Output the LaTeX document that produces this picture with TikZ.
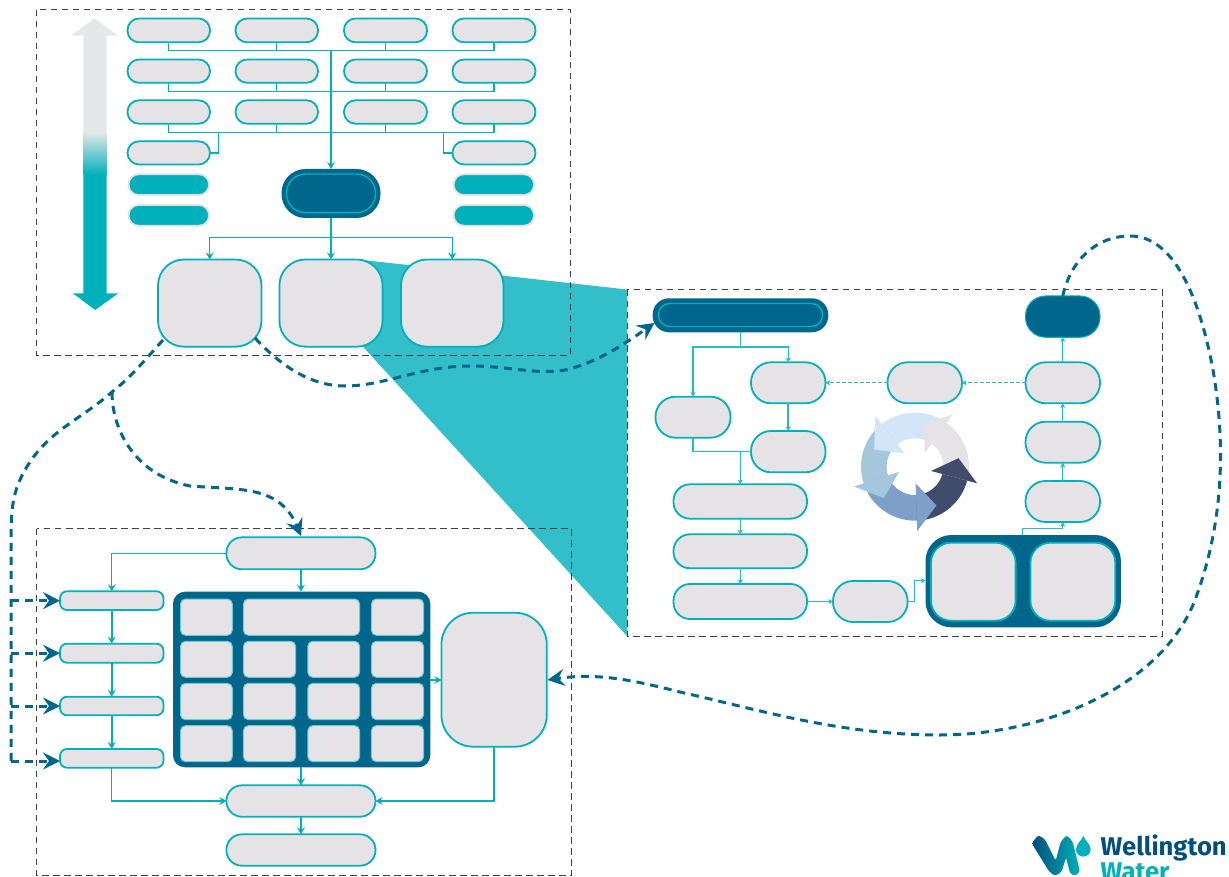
\documentclass[tikz,border=0pt]{standalone}
\usepackage{fontspec}
\setmainfont{Fira Sans}
\usetikzlibrary{arrows.meta}
\definecolor{boxfill}{HTML}{E6E3E6}
\definecolor{wwteal}{HTML}{00B0BB}
\definecolor{wwdark}{HTML}{00668C}
\definecolor{wedge}{HTML}{33BFCA}
\definecolor{gtop}{HTML}{E6E7E8}
\definecolor{halo}{HTML}{E3DFE3}
\definecolor{ringa}{HTML}{414C6D}
\definecolor{ringb}{HTML}{E6E3E7}
\definecolor{ringc}{HTML}{D2E6F8}
\definecolor{ringd}{HTML}{A4C7DE}
\definecolor{ringe}{HTML}{7F9FCB}
\definecolor{wwtext}{HTML}{004F7C}
\tikzset{
  boxbase/.style={inner sep=0pt,outer sep=0pt},
  pill/.style={boxbase,draw=wwteal,fill=boxfill,line width=1.8pt},
  cell/.style={boxbase,draw=wwteal!50!boxfill,fill=boxfill,line width=1pt},
  tealpill/.style={boxbase,draw=halo,fill=wwteal,line width=1.8pt},
  darkbox/.style={boxbase,fill=wwdark},
  darkedge/.style={boxbase,fill=wwdark,draw=wwteal,line width=1pt},
  inline/.style={boxbase,draw=wwteal,line width=1.4pt},
  frame/.style={draw=black!75,line width=1pt,dash pattern=on 6.5pt off 4.5pt},
  flow/.style={draw=wwteal,line width=1.3pt,-{Stealth[length=7pt,width=8pt,inset=2.5pt]}},
  flowplain/.style={draw=wwteal,line width=1.3pt},
  thick flow/.style={flow,line width=1.8pt},
  smallflow/.style={draw=wwteal!85!white,line width=1.1pt,-{Stealth[length=4.5pt,width=5pt,inset=1pt]}},
  dotflow/.style={smallflow,dash pattern=on 3.5pt off 2.5pt},
  dashflow/.style={draw=wwdark,line width=3pt,dash pattern=on 8pt off 6pt,-{Stealth[length=17pt,width=17pt,inset=6pt]}},
  dashplain/.style={draw=wwdark,line width=3pt,dash pattern=on 8pt off 6pt},
}
% [style]{name}{x0}{y0}{x1}{y1}{radius}
\newcommand{\bx}[7][pill]{%
  \pgfmathsetmacro{\bxw}{#5-#3}\pgfmathsetmacro{\bxh}{#6-#4}%
  \pgfmathsetmacro{\bxc}{(#3+#5)/2}\pgfmathsetmacro{\bxd}{(#4+#6)/2}%
  \node[#1,minimum width=\bxw pt,minimum height=\bxh pt,rounded corners=#7pt] (#2) at (\bxc,\bxd) {};}
% {colour}{tail}{base}
\newcommand{\ringbody}[3]{\fill[#1] plot[domain=#2:#3,samples=24] ({\x}:162) -- plot[domain=#3:#2,samples=24] ({\x}:85) -- cycle;}
% {colour}{base}{tip}
\newcommand{\ringhead}[3]{\fill[#1] (#2:193) -- (#3:133) -- (#2:50) -- cycle;}
\begin{document}
\begin{tikzpicture}[x=1pt,y=-1pt]
\useasboundingbox (0,0) rectangle (1229,877);
% wedge
\fill[wedge] (363,260) -- (627,289.5) -- (627,636) -- (363,346.7) -- cycle;
% frames
\draw[frame] (36.5,9.7) rectangle (570.5,355);
\draw[frame] (627,290) rectangle (1162,636);
\draw[frame] (36.5,528.5) rectangle (571.5,875);
% gradient arrow
\fill[gtop] (94.5,18.3) -- (117.7,35.7) -- (106.5,35.7) -- (106.5,132.5) -- (83.3,132.5) -- (83.3,35.7) -- (71,35.7) -- cycle;
\shade[top color=gtop,bottom color=wwteal] (83.3,132) rectangle (106.5,175);
\fill[wwteal] (83.3,174.5) -- (106.5,174.5) -- (106.5,293.3) -- (118.4,293.3) -- (95.2,310) -- (72.8,293.3) -- (83.3,293.3) -- cycle;
% hierarchy top
\foreach \nm/\xa/\xb in {a/127.5/210,b/235.5/318,c/344/427,d/452.5/535.5}{
  \bx{\nm1}{\xa}{18.5}{\xb}{42.3}{11.5}
  \bx{\nm2}{\xa}{59.5}{\xb}{82.8}{11.5}
  \bx{\nm3}{\xa}{100.3}{\xb}{123.7}{11.5}
}
\bx{a4}{127.5}{141.3}{210}{164.5}{11.5}
\bx{d4}{452.5}{141.3}{535.5}{164.5}{11.5}
\bx[tealpill]{t1}{128.6}{174.3}{209}{195}{10}
\bx[tealpill]{t2}{128.6}{205}{209}{225.7}{10}
\bx[tealpill]{t3}{453.7}{174.3}{534}{195}{10}
\bx[tealpill]{t4}{453.7}{205}{534}{225.7}{10}
\bx[darkbox]{core}{281.5}{169}{380.5}{218}{24}
\bx[inline]{corein}{286.5}{174}{375.5}{212.7}{19}
\bx{big1}{158}{259.5}{261.5}{346.7}{26}
\bx{big2}{279.4}{259.5}{382.6}{346.7}{26}
\bx{big3}{401}{259.5}{503.5}{346.7}{26}
% hierarchy connectors
\coordinate (busa) at (331,50.7);
\coordinate (busb) at (331,91.3);
\coordinate (busc) at (331,132.3);
\coordinate (stubl) at (218.7,132.3);
\coordinate (stubr) at (443.2,132.3);
\coordinate (fork) at (331,237.3);
\foreach \bus/\rw in {busa/1,busb/2,busc/3}{
  \draw[flowplain] (a\rw.south) |- (\bus) -| (d\rw.south);
  \draw[flowplain] (b\rw.south) |- (\bus);
  \draw[flowplain] (c\rw.south) |- (\bus);
}
\draw[flowplain] (a4.east) -| (stubl);
\draw[flowplain] (d4.west) -| (stubr);
\draw[flow] (busa) -- (core.north);
\draw[flow] (core.south) -- (big2.north);
\draw[flow] (fork) -| (big1.north);
\draw[flow] (fork) -| (big3.north);
% frame 2
\bx[darkbox]{ptop}{652.6}{298.3}{828.3}{332.3}{16.5}
\bx[inline]{ptopin}{658.5}{303.5}{822.5}{326.5}{11}
\bx[darkedge]{rtop}{1025.5}{296}{1100}{337.3}{20}
\bx{pa}{751}{362.3}{825.5}{403.3}{20}
\bx{pb}{887.5}{362.3}{962}{403.3}{20}
\bx{pc}{1025.5}{362.3}{1100}{403.3}{20}
\bx{pl}{655.5}{396.7}{730.5}{437.7}{20}
\bx{pd}{751}{431}{825.5}{472.3}{20}
\bx{pe}{673.5}{484.3}{807}{518.7}{16.5}
\bx{pf}{673.5}{534.3}{807}{568.3}{16.5}
\bx{pg}{673.5}{584}{807}{619}{16.5}
\bx{ph}{833}{581}{907.6}{622}{20}
\bx{pc2}{1025.5}{421.7}{1100}{462.7}{20}
\bx{pc3}{1025.5}{481}{1100}{522}{20}
\bx[darkbox]{pair}{925.5}{535}{1120.9}{627.3}{26}
\bx{pair1}{931}{542.7}{1015.6}{620.7}{20}
\bx{pair2}{1030.4}{542.7}{1115.3}{620.7}{20}
\coordinate (split) at (740.3,347);
\coordinate (merge) at (740.3,451.7);
\coordinate (hbend) at (914.6,601.5);
\coordinate (hend) at (925.5,580.7);
\coordinate (pout) at (1022.7,535);
\coordinate (ptwo) at (1062.7,528.7);
\draw[smallflow] (ptop.south -| split) -- (split) -| (pl.north);
\draw[smallflow] (split) -| (pa.north);
\draw[smallflow,line width=1.8pt] (pa.south) -- (pd.north);
\draw[draw=wwteal!85!white,line width=1.1pt] (pl.south) |- (pd.west);
\draw[smallflow] (merge) -- (pe.north -| merge);
\draw[smallflow] (pe.south) -- (pf.north);
\draw[smallflow] (pf.south) -- (pg.north);
\draw[smallflow,line width=1.8pt] (pg.east) -- (ph.west);
\draw[smallflow] (ph.east) -- (hbend) |- (hend);
\draw[smallflow] (pout) |- (ptwo) -| (pc3.south);
\draw[smallflow] (pc3.north) -- (pc2.south);
\draw[smallflow] (pc2.north) -- (pc.south);
\draw[smallflow] (pc.north) -- (rtop.south);
\draw[dotflow] (pc.west) -- (pb.east);
\draw[dotflow] (pb.west) -- (pa.east);
% ring
\begin{scope}[shift={(840,400)},x=0.3333pt,y=-0.3333pt]
\begin{scope}[shift={(225,200)}]
\ringbody{ringb}{15}{-54}
\ringbody{ringc}{-54}{-128}
\ringbody{ringd}{-128}{-198}
\ringbody{ringe}{162}{88}
\ringbody{ringa}{88}{15}
\ringhead{ringb}{-54}{-78}
\ringhead{ringc}{-128}{-157}
\ringhead{ringd}{-198}{-225}
\ringhead{ringe}{88}{61}
\ringhead{ringa}{15}{-11}
\end{scope}
\end{scope}
% frame 3
\bx{q1}{226.4}{537.3}{375.5}{569.3}{15.5}
\bx{s1}{60}{591.3}{163.5}{610}{7}
\bx{s2}{60}{643.7}{163.5}{662.7}{7}
\bx{s3}{60}{696.7}{163.5}{715.3}{7}
\bx{s4}{60}{749}{163.5}{767.7}{7}
\bx[darkbox]{table}{173}{591.7}{430.3}{767.3}{12}
\bx[cell]{c11}{180.5}{599}{232.3}{635.3}{5}
\bx[cell]{c12}{243.4}{599}{359.6}{635.3}{5}
\bx[cell]{c14}{371.4}{599}{423.6}{635.3}{5}
\foreach \rn/\ya/\yb in {2/641.3/677.3,3/683.3/719.7,4/725.7/761.7}{
  \bx[cell]{c\rn1}{180.5}{\ya}{232.3}{\yb}{5}
  \bx[cell]{c\rn2}{243.4}{\ya}{295.6}{\yb}{5}
  \bx[cell]{c\rn3}{307.8}{\ya}{359.6}{\yb}{5}
  \bx[cell]{c\rn4}{371.4}{\ya}{423.6}{\yb}{5}
}
\bx{tall}{441.4}{612.7}{546.8}{746.7}{32}
\bx{q2}{226.4}{785.3}{375.5}{816.7}{15.5}
\bx{q3}{226.4}{834.3}{375.5}{865.7}{15.5}
\draw[flow] (q1.west) -| (s1.north);
\draw[flow] (q1.south) -- (table.north -| q1.south);
\draw[thick flow] (s1.south) -- (s2.north);
\draw[thick flow] (s2.south) -- (s3.north);
\draw[thick flow] (s3.south) -- (s4.north);
\draw[flow] (s4.south) |- (q2.west);
\draw[flow] (tall.south) |- (q2.east);
\draw[flow] (table.south -| q2.north) -- (q2.north);
\draw[flow] (q2.south) -- (q3.north);
\draw[flow] (table.east |- 0,680) -- (tall.west |- 0,680);
% dashed connectors
\coordinate (d1s) at (255,338);
\coordinate (d1e) at (654.5,323);
\coordinate (d2s) at (163,340);
\coordinate (jn) at (112,392);
\coordinate (lane) at (11,761);
\coordinate (d3e) at (301,536);
\coordinate (d4e) at (547.5,680);
\draw[dashflow] (d1s) .. controls (280,365) and (310,386) .. (345,386) .. controls (385,386) and (420,366) .. (470,366) .. controls (510,366) and (535,375) .. (565,370) .. controls (600,362) and (630,340) .. (d1e);
\draw[dashplain] (d2s) .. controls (145,360) and (130,378) .. (jn) .. controls (80,420) and (50,430) .. (28,465) .. controls (12,490) and (11,510) .. (11,540) -- (lane);
\draw[dashflow] (lane) -- (s4.west |- lane);
\foreach \tg in {s1,s2,s3}{
  \draw[dashflow] (lane |- \tg.west) -- (\tg.west);
}
\draw[dashflow] (jn) .. controls (112,430) and (135,475) .. (190,486) .. controls (240,490) and (280,485) .. (d3e);
\draw[dashflow] (rtop.north) .. controls (1070,262) and (1095,236) .. (1130,236) .. controls (1175,236) and (1200,300) .. (1213,370) .. controls (1225,440) and (1225,520) .. (1195,600) .. controls (1160,690) and (1040,735) .. (940,735) .. controls (840,735) and (760,710) .. (680,692) .. controls (640,682) and (600,672) .. (d4e);
% logo
\shade[left color=wwtext,right color=wwteal,rounded corners=2.5pt] (1031.7,843.3) -- (1038.3,835) -- (1045,839.3) -- (1055.7,860.7) -- (1060.7,841.7) -- (1066.7,835) -- (1072.7,841.7) -- (1080,871.7) -- (1075,876) -- (1070,873.3) -- (1066,857.3) -- (1061.7,871.7) -- (1055,876) -- (1049.3,871.7) -- cycle;
\fill[wwteal] (1083.3,835.7) .. controls (1085,841) and (1090.6,844) .. (1090.6,849.3) .. controls (1090.6,859) and (1076,859) .. (1076,849.3) .. controls (1076,844) and (1081.6,841) .. (1083.3,835.7) -- cycle;
\node[anchor=south west,inner sep=0pt,align=left,font=\fontsize{25.6}{19.5}\selectfont\bfseries] (wm) at (1100.5,881) {\textcolor{wwtext}{Wellington}\\\textcolor{wwteal}{Water}};
\end{tikzpicture}
\end{document}
